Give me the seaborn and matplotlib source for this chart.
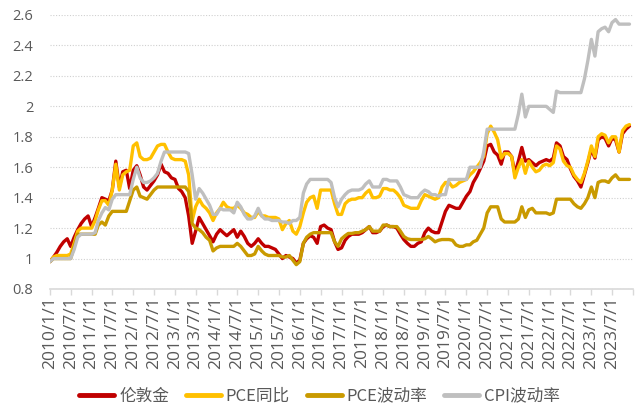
import pandas as pd
import matplotlib.pyplot as plt
import seaborn as sns

# monthly values, 2010/1 - 2023/12
gold_price = [
    0.98, 1.01, 1.04, 1.08, 1.11, 1.13, 1.08, 1.14, 1.19, 1.23, 1.26, 1.28,
    1.21, 1.27, 1.33, 1.40, 1.39, 1.38, 1.45, 1.64, 1.47, 1.57, 1.58, 1.46,
    1.58, 1.61, 1.55, 1.47, 1.45, 1.48, 1.51, 1.55, 1.62, 1.57, 1.56, 1.53,
    1.52, 1.46, 1.44, 1.40, 1.28, 1.10, 1.18, 1.27, 1.23, 1.19, 1.15, 1.11,
    1.16, 1.19, 1.17, 1.15, 1.17, 1.19, 1.14, 1.18, 1.145, 1.10, 1.08, 1.10,
    1.13, 1.10, 1.08, 1.08, 1.07, 1.06, 1.03, 1.00, 1.02, 1.01, 1.00, 0.97,
    0.99, 1.10, 1.13, 1.15, 1.14, 1.10, 1.21, 1.22, 1.20, 1.19, 1.11, 1.06,
    1.07, 1.12, 1.145, 1.16, 1.16, 1.16, 1.17, 1.19, 1.21, 1.17, 1.17, 1.18,
    1.21, 1.22, 1.21, 1.21, 1.20, 1.16, 1.125, 1.10, 1.08, 1.08, 1.10, 1.11,
    1.17, 1.20, 1.18, 1.17, 1.17, 1.24, 1.31, 1.35, 1.34, 1.33, 1.33, 1.37,
    1.41, 1.44, 1.50, 1.54, 1.59, 1.64, 1.74, 1.75, 1.70, 1.68, 1.62, 1.70,
    1.70, 1.67, 1.56, 1.64, 1.73, 1.64, 1.65, 1.63, 1.61, 1.63, 1.64, 1.65,
    1.64, 1.66, 1.76, 1.74, 1.67, 1.65, 1.59, 1.54, 1.51, 1.47, 1.55, 1.63,
    1.72, 1.66, 1.78, 1.80, 1.79, 1.74, 1.79, 1.78, 1.70, 1.82, 1.85, 1.87,
]

pce_yoy = [
    0.98, 1.01, 1.02, 1.02, 1.02, 1.02, 1.03, 1.10, 1.18, 1.20, 1.20, 1.20,
    1.20, 1.25, 1.32, 1.38, 1.38, 1.35, 1.45, 1.62, 1.45, 1.55, 1.57, 1.58,
    1.74, 1.76, 1.67, 1.65, 1.65, 1.66, 1.70, 1.74, 1.75, 1.75, 1.70, 1.66,
    1.65, 1.65, 1.65, 1.64, 1.55, 1.25, 1.34, 1.39, 1.35, 1.33, 1.30, 1.25,
    1.30, 1.33, 1.37, 1.34, 1.33, 1.33, 1.35, 1.33, 1.30, 1.29, 1.27, 1.27,
    1.31, 1.28, 1.28, 1.27, 1.27, 1.27, 1.26, 1.19, 1.23, 1.25, 1.18, 1.16,
    1.21, 1.30, 1.37, 1.40, 1.41, 1.33, 1.45, 1.45, 1.45, 1.45, 1.36, 1.29,
    1.29, 1.36, 1.38, 1.39, 1.39, 1.40, 1.40, 1.43, 1.45, 1.40, 1.40, 1.41,
    1.46, 1.46, 1.45, 1.45, 1.43, 1.40, 1.35, 1.34, 1.33, 1.33, 1.33, 1.38,
    1.42, 1.41, 1.40, 1.39, 1.40, 1.47, 1.50, 1.50, 1.47, 1.48, 1.50, 1.51,
    1.52, 1.55, 1.57, 1.60, 1.63, 1.67, 1.82, 1.87, 1.83, 1.78, 1.66, 1.69,
    1.69, 1.67, 1.53, 1.60, 1.65, 1.56, 1.64, 1.60, 1.57, 1.58, 1.61, 1.62,
    1.61, 1.63, 1.74, 1.72, 1.64, 1.61, 1.60, 1.55, 1.52, 1.50, 1.56, 1.64,
    1.74, 1.67, 1.80, 1.82, 1.81, 1.76, 1.80, 1.80, 1.70, 1.84, 1.87, 1.88,
]

pce_vol = [
    0.98, 1.00, 1.00, 1.00, 1.00, 1.00, 1.00, 1.08, 1.16, 1.16, 1.16, 1.16,
    1.16, 1.16, 1.22, 1.24, 1.22, 1.28, 1.31, 1.31, 1.31, 1.31, 1.31, 1.38,
    1.45, 1.47, 1.41, 1.40, 1.39, 1.42, 1.45, 1.47, 1.47, 1.47, 1.47, 1.47,
    1.47, 1.47, 1.47, 1.47, 1.44, 1.23, 1.20, 1.19, 1.17, 1.14, 1.12, 1.05,
    1.07, 1.08, 1.08, 1.08, 1.08, 1.08, 1.10, 1.08, 1.05, 1.02, 1.02, 1.03,
    1.08, 1.05, 1.03, 1.02, 1.02, 1.02, 1.02, 1.01, 1.01, 1.02, 0.99, 0.96,
    0.98, 1.10, 1.14, 1.16, 1.17, 1.17, 1.17, 1.17, 1.17, 1.17, 1.11, 1.08,
    1.13, 1.15, 1.165, 1.165, 1.17, 1.17, 1.18, 1.19, 1.21, 1.18, 1.18, 1.18,
    1.22, 1.22, 1.21, 1.21, 1.21, 1.18, 1.145, 1.13, 1.125, 1.125, 1.125, 1.125,
    1.13, 1.145, 1.13, 1.11, 1.12, 1.125, 1.125, 1.125, 1.12, 1.09, 1.08, 1.08,
    1.09, 1.09, 1.11, 1.12, 1.16, 1.20, 1.30, 1.34, 1.34, 1.34, 1.26, 1.24,
    1.24, 1.24, 1.24, 1.26, 1.34, 1.27, 1.32, 1.33, 1.30, 1.30, 1.30, 1.30,
    1.29, 1.30, 1.39, 1.39, 1.39, 1.39, 1.39, 1.36, 1.34, 1.33, 1.36, 1.40,
    1.47, 1.40, 1.50, 1.51, 1.51, 1.50, 1.53, 1.55, 1.52, 1.52, 1.52, 1.52,
]

cpi_vol = [
    0.98, 1.00, 1.00, 1.00, 1.00, 1.00, 1.00, 1.06, 1.14, 1.16, 1.16, 1.16,
    1.16, 1.17, 1.25, 1.30, 1.335, 1.32, 1.39, 1.42, 1.42, 1.42, 1.42, 1.42,
    1.52, 1.60, 1.53, 1.50, 1.50, 1.51, 1.53, 1.56, 1.64, 1.70, 1.70, 1.70,
    1.70, 1.70, 1.70, 1.70, 1.69, 1.55, 1.39, 1.46, 1.43, 1.39, 1.35, 1.29,
    1.29, 1.33, 1.32, 1.32, 1.32, 1.30, 1.37, 1.34, 1.29, 1.26, 1.26, 1.28,
    1.33, 1.28, 1.26, 1.26, 1.25, 1.25, 1.25, 1.24, 1.24, 1.23, 1.25, 1.25,
    1.27, 1.43, 1.49, 1.52, 1.52, 1.52, 1.52, 1.52, 1.52, 1.50, 1.40, 1.34,
    1.39, 1.42, 1.44, 1.45, 1.45, 1.45, 1.46, 1.49, 1.51, 1.47, 1.47, 1.47,
    1.52, 1.52, 1.51, 1.51, 1.51, 1.47, 1.42, 1.41, 1.40, 1.40, 1.40, 1.43,
    1.45, 1.44, 1.42, 1.42, 1.41, 1.42, 1.42, 1.52, 1.52, 1.52, 1.52, 1.52,
    1.52, 1.60, 1.60, 1.60, 1.60, 1.70, 1.85, 1.85, 1.85, 1.85, 1.85, 1.85,
    1.85, 1.85, 1.85, 1.95, 2.08, 1.93, 2.00, 2.00, 2.00, 2.00, 2.00, 2.00,
    1.98, 1.96, 2.10, 2.09, 2.09, 2.09, 2.09, 2.09, 2.09, 2.09, 2.18, 2.30,
    2.44, 2.33, 2.49, 2.51, 2.52, 2.49, 2.55, 2.57, 2.54, 2.54, 2.54, 2.54,
]

dates = pd.date_range("2010-01-01", periods=len(gold_price), freq="MS")
tick_dates = pd.date_range("2010-01-01", "2024-01-01", freq="6MS")
tick_labels = [f"{d.year}/{d.month}/{d.day}" for d in tick_dates[:-1]] + [""]

series_names = ["伦敦金", "PCE同比", "PCE波动率", "CPI波动率"]
series_values = [gold_price, pce_yoy, pce_vol, cpi_vol]
colors = ["#C00000", "#FFC000", "#C99A00", "#BFBFBF"]

sns.set_theme(style="white")
plt.rcParams["font.family"] = ["Noto Sans CJK SC", "DejaVu Sans"]

fig = plt.figure(figsize=(6.39, 4.15), dpi=100)
ax = fig.add_axes([50 / 639, 1 - 289 / 415, 583 / 639, 274 / 415])

for name, vals, col in zip(series_names, series_values, colors):
    sns.lineplot(x=dates, y=vals, ax=ax, color=col, linewidth=2.4, label=name,
                 solid_joinstyle="round", solid_capstyle="round")

ax.set_xlim(pd.Timestamp("2010-01-01"), pd.Timestamp("2024-01-01"))
ax.set_ylim(0.8, 2.6)
yt = [0.8, 1.0, 1.2, 1.4, 1.6, 1.8, 2.0, 2.2, 2.4, 2.6]
ax.set_yticks(yt)
ax.set_yticklabels([f"{v:g}" for v in yt], color="#595959", fontsize=10.5,
                   family=["Open Sans", "DejaVu Sans"])
ax.set_xticks(tick_dates)
ax.set_xticklabels(tick_labels, rotation=90, color="#595959", fontsize=12.5,
                   family=["Open Sans", "DejaVu Sans"])
ax.set_xlabel("")
ax.set_ylabel("")

ax.yaxis.grid(True, color="#D0D0D0", linestyle=(0, (1, 1.5)), linewidth=0.8)
ax.xaxis.grid(False)
for s in ["top", "right", "left"]:
    ax.spines[s].set_visible(False)
ax.spines["bottom"].set_color("#D9D9D9")
ax.spines["bottom"].set_linewidth(1.2)
ax.tick_params(axis="y", length=0, pad=12)
ax.tick_params(axis="x", length=4, width=1, color="#D9D9D9", pad=1,
               bottom=True, direction="out")

ax.legend(loc="center", bbox_to_anchor=(0.5, (415 - 396) / 415),
          bbox_transform=fig.transFigure, ncol=4, frameon=False,
          fontsize=12, handlelength=2.1, handletextpad=0.3,
          columnspacing=1.0, labelcolor="#595959")
for line in ax.get_legend().get_lines():
    line.set_linewidth(3.5)

fig.savefig("out.png", dpi=100)
